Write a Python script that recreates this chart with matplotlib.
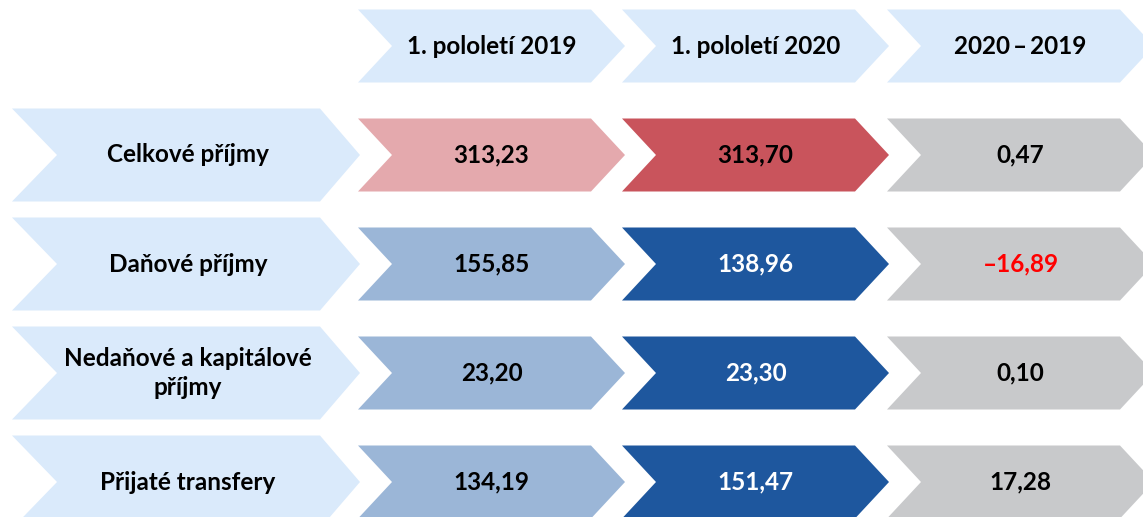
import matplotlib
matplotlib.use("Agg")
import matplotlib.pyplot as plt
from matplotlib.patches import Polygon

plt.rcParams['font.family'] = ['Lato', 'DejaVu Sans']

# data (mld. Kč)
categories = ["Celkové příjmy", "Daňové příjmy", "Nedaňové a kapitálové\npříjmy", "Přijaté transfery"]
columns = ["1. pololetí 2019", "1. pololetí 2020", "2020\u2009–\u20092019"]
values_2019 = [313.23, 155.85, 23.20, 134.19]
values_2020 = [313.70, 138.96, 23.30, 151.47]
diff = [0.47, -16.89, 0.10, 17.28]

# colours
c_light = "#DAEAFB"
c_2019 = ["#E4A9AD", "#9BB6D7", "#9BB6D7", "#9BB6D7"]
c_2020 = ["#C9545C", "#1E579E", "#1E579E", "#1E579E"]
txt_2020 = ["black", "white", "white", "white"]
c_diff = "#C8C9CB"


def fmt(v):
    s = "{:.2f}".format(abs(v)).replace(".", ",")
    return ("–" + s) if v < 0 else s


def chevron(ax, x0, x1, yc, h, color, depth=34, notch=None):
    if notch is None:
        notch = depth
    pts = [(x0, yc - h / 2), (x1 - depth, yc - h / 2), (x1, yc),
           (x1 - depth, yc + h / 2), (x0, yc + h / 2), (x0 + notch, yc)]
    ax.add_patch(Polygon(pts, closed=True, facecolor=color, edgecolor="none"))


fig = plt.figure(figsize=(11.43, 5.17), dpi=100)
ax = fig.add_axes([0, 0, 1, 1])
ax.set_xlim(0, 1143)
ax.set_ylim(517, 0)
ax.axis("off")

col_left = [358, 622, 887]
col_w = 267
lab_left, lab_right = 12, 360
head_y = 46
row_y = [155, 264, 373, 482]
val_h = 73
lab_h = 93
fs = 17.5

# header
for j, name in enumerate(columns):
    chevron(ax, col_left[j], col_left[j] + col_w, head_y, val_h, c_light)
    ax.text(col_left[j] + col_w / 2, head_y, name, ha="center", va="center",
            fontsize=fs, fontweight="bold", color="black")

for i, cat in enumerate(categories):
    y = row_y[i]
    chevron(ax, lab_left, lab_right, y, lab_h, c_light, depth=40, notch=45)
    ax.text((lab_left + lab_right) / 2 + 2, y, cat, ha="center", va="center",
            fontsize=fs, fontweight="bold", color="black", linespacing=1.3)

    chevron(ax, col_left[0], col_left[0] + col_w, y, val_h, c_2019[i])
    ax.text(col_left[0] + col_w / 2, y, fmt(values_2019[i]), ha="center", va="center",
            fontsize=fs, fontweight="bold", color="black")

    chevron(ax, col_left[1], col_left[1] + col_w, y, val_h, c_2020[i])
    ax.text(col_left[1] + col_w / 2, y, fmt(values_2020[i]), ha="center", va="center",
            fontsize=fs, fontweight="bold", color=txt_2020[i])

    chevron(ax, col_left[2], col_left[2] + col_w, y, val_h, c_diff)
    ax.text(col_left[2] + col_w / 2, y, fmt(diff[i]), ha="center", va="center",
            fontsize=fs, fontweight="bold", color="#FF0000" if diff[i] < 0 else "black")

fig.savefig("out.png", dpi=100, facecolor="white")
